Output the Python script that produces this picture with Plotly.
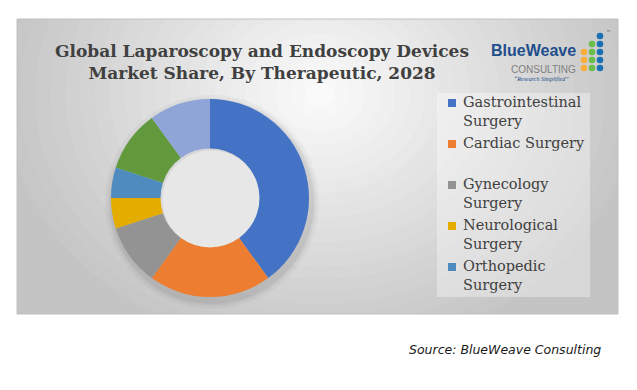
import plotly.graph_objects as go

# ---- data ----
categories = ["Gastrointestinal Surgery", "Cardiac Surgery", "Gynecology Surgery",
              "Neurological Surgery", "Orthopedic Surgery", "Urology Surgery", "Others"]
shares = [40, 20, 10, 5, 5, 10, 10]
colors = ["#4472C4", "#ED7D31", "#939393", "#E5AC00", "#4E8BBE", "#63993D", "#8FA5D8"]
legend_labels = ["Gastrointestinal<br>Surgery", "Cardiac Surgery", "Gynecology<br>Surgery",
                 "Neurological<br>Surgery", "Orthopedic<br>Surgery"]

W, H = 637, 390


def px(x):
    return x / W


def py(y):
    return 1 - y / H


fig = go.Figure()

# donut geometry in pixels
cx, cy, R = 210, 198, 99
fig.add_trace(go.Pie(
    labels=categories, values=shares, hole=0.5, sort=False, direction="clockwise",
    rotation=0, marker=dict(colors=colors, line=dict(width=0)),
    textinfo="none", hoverinfo="label+percent", showlegend=False,
    domain=dict(x=[px(cx - R), px(cx + R)], y=[py(cy + R), py(cy - R)]),
))

shapes = []
# panel base + radial gradient
x0, y0, x1, y1 = 17, 19, 618, 314
shapes.append(dict(type="rect", xref="paper", yref="paper", x0=px(x0), x1=px(x1),
                   y0=py(y1), y1=py(y0), fillcolor="#c4c4c4", line=dict(width=0), layer="below"))
gx, gy = 320, 95
N = 22
for k in range(N):
    f = 1 - k / N
    rx, ry = 330 * f, 270 * f
    g = int(round(196 + (250 - 196) * (k / (N - 1))))
    shapes.append(dict(type="circle", xref="paper", yref="paper",
                       x0=px(gx - rx), x1=px(gx + rx), y0=py(gy + ry), y1=py(gy - ry),
                       fillcolor=f"rgb({g},{g},{g})", line=dict(width=0), layer="below"))
# donut shadow
for dr, op in [(8, 0.03), (5, 0.04), (3, 0.05)]:
    shapes.append(dict(type="circle", xref="paper", yref="paper",
                       x0=px(cx - R - dr + 2), x1=px(cx + R + dr + 2),
                       y0=py(cy + 4 + R + dr), y1=py(cy + 4 - R - dr),
                       fillcolor=f"rgba(0,0,0,{op})", line=dict(width=0), layer="below"))
# hole fill with a soft inner shadow
hr = R * 0.5
shapes.append(dict(type="circle", xref="paper", yref="paper",
                   x0=px(cx - hr - 1), x1=px(cx + hr + 1), y0=py(cy + hr + 1), y1=py(cy - hr - 1),
                   fillcolor="#d8d8d8", line=dict(width=0), layer="below"))
shapes.append(dict(type="circle", xref="paper", yref="paper",
                   x0=px(cx - hr + 2), x1=px(cx + hr + 1), y0=py(cy + hr + 1), y1=py(cy - hr + 2),
                   fillcolor="#e7e7e7", line=dict(width=0), layer="below"))
# mask outside the panel
white = dict(fillcolor="white", line=dict(width=0), layer="below", xref="paper", yref="paper", type="rect")
shapes.append(dict(**white, x0=0, x1=1, y0=py(y0), y1=1.01))
shapes.append(dict(**white, x0=0, x1=1, y0=-0.01, y1=py(y1)))
shapes.append(dict(**white, x0=-0.01, x1=px(x0), y0=0, y1=1))
shapes.append(dict(**white, x0=px(x1), x1=1.01, y0=0, y1=1))
# panel border
shapes.append(dict(type="rect", xref="paper", yref="paper", x0=px(x0), x1=px(x1),
                   y0=py(y1), y1=py(y0), fillcolor="rgba(0,0,0,0)",
                   line=dict(width=1, color="#c0c0c0"), layer="below"))
# legend box
shapes.append(dict(type="rect", xref="paper", yref="paper", x0=px(437), x1=px(590),
                   y0=py(297), y1=py(93), fillcolor="rgba(255,255,255,0.35)",
                   line=dict(width=0), layer="below"))

annotations = []
# legend entries
leg_y = [103, 144, 185, 226, 267]
for lab, col, ly in zip(legend_labels, colors, leg_y):
    shapes.append(dict(type="rect", xref="paper", yref="paper", x0=px(448), x1=px(456),
                       y0=py(ly + 4), y1=py(ly - 4), fillcolor=col, line=dict(width=0)))
    annotations.append(dict(xref="paper", yref="paper", x=px(461), y=py(ly - 11.2),
                            xanchor="left", yanchor="top", text=lab, showarrow=False, align="left",
                            font=dict(family="DejaVu Serif", size=14.5, color="#404040")))

# title
annotations.append(dict(xref="paper", yref="paper", x=px(262), y=py(62.5), xanchor="center",
                        yanchor="middle", showarrow=False, align="center",
                        text="<b>Global Laparoscopy and Endoscopy Devices<br>Market Share, By Therapeutic, 2028</b>",
                        font=dict(family="DejaVu Serif", size=17, color="#404040")))

# logo
annotations.append(dict(xref="paper", yref="paper", x=px(578), y=py(51), xanchor="right",
                        yanchor="middle", showarrow=False, text="<b>BlueWeave</b>",
                        font=dict(family="Liberation Sans Narrow, Liberation Sans", size=16, color="#1F4E8C")))
annotations.append(dict(xref="paper", yref="paper", x=px(578), y=py(69), xanchor="right",
                        yanchor="middle", showarrow=False, text="CONSULTING",
                        font=dict(family="Liberation Sans Narrow, Liberation Sans", size=10, color="#808080")))
annotations.append(dict(xref="paper", yref="paper", x=px(571), y=py(79), xanchor="right",
                        yanchor="middle", showarrow=False, text="<i>\u201cResearch Simplified\u201d</i>",
                        font=dict(family="Liberation Serif", size=6, color="#1F4E8C")))
annotations.append(dict(xref="paper", yref="paper", x=px(604), y=py(32), xanchor="left",
                        yanchor="middle", showarrow=False, text="\u2122",
                        font=dict(family="DejaVu Sans", size=5, color="#404040")))
dot_blue, dot_green, dot_orange = "#1A6FB5", "#6ABF4B", "#F9AE3A"
dots = [(600, 36, dot_blue), (600, 44, dot_blue), (600, 52, dot_blue), (600, 60, dot_blue), (600, 68, dot_blue),
        (592, 44, dot_green), (592, 52, dot_green), (592, 60, dot_green), (592, 68, dot_green),
        (584, 52, dot_orange), (584, 60, dot_orange), (584, 68, dot_orange)]
for dx, dy, dc in dots:
    shapes.append(dict(type="circle", xref="paper", yref="paper", x0=px(dx - 3.3), x1=px(dx + 3.3),
                       y0=py(dy + 3.3), y1=py(dy - 3.3), fillcolor=dc, line=dict(width=0)))

# source
annotations.append(dict(xref="paper", yref="paper", x=px(603), y=py(349), xanchor="right",
                        yanchor="middle", showarrow=False, text="<i>Source: BlueWeave Consulting</i>",
                        font=dict(family="DejaVu Sans", size=12.5, color="#1a1a1a")))

fig.update_layout(width=W, height=H, margin=dict(l=0, r=0, t=0, b=0),
                  paper_bgcolor="white", plot_bgcolor="white",
                  shapes=shapes, annotations=annotations, showlegend=False)

fig.write_html("out.html", config={"displayModeBar": False},
               post_script="document.body.style.margin='0';document.body.style.overflow='hidden';")
